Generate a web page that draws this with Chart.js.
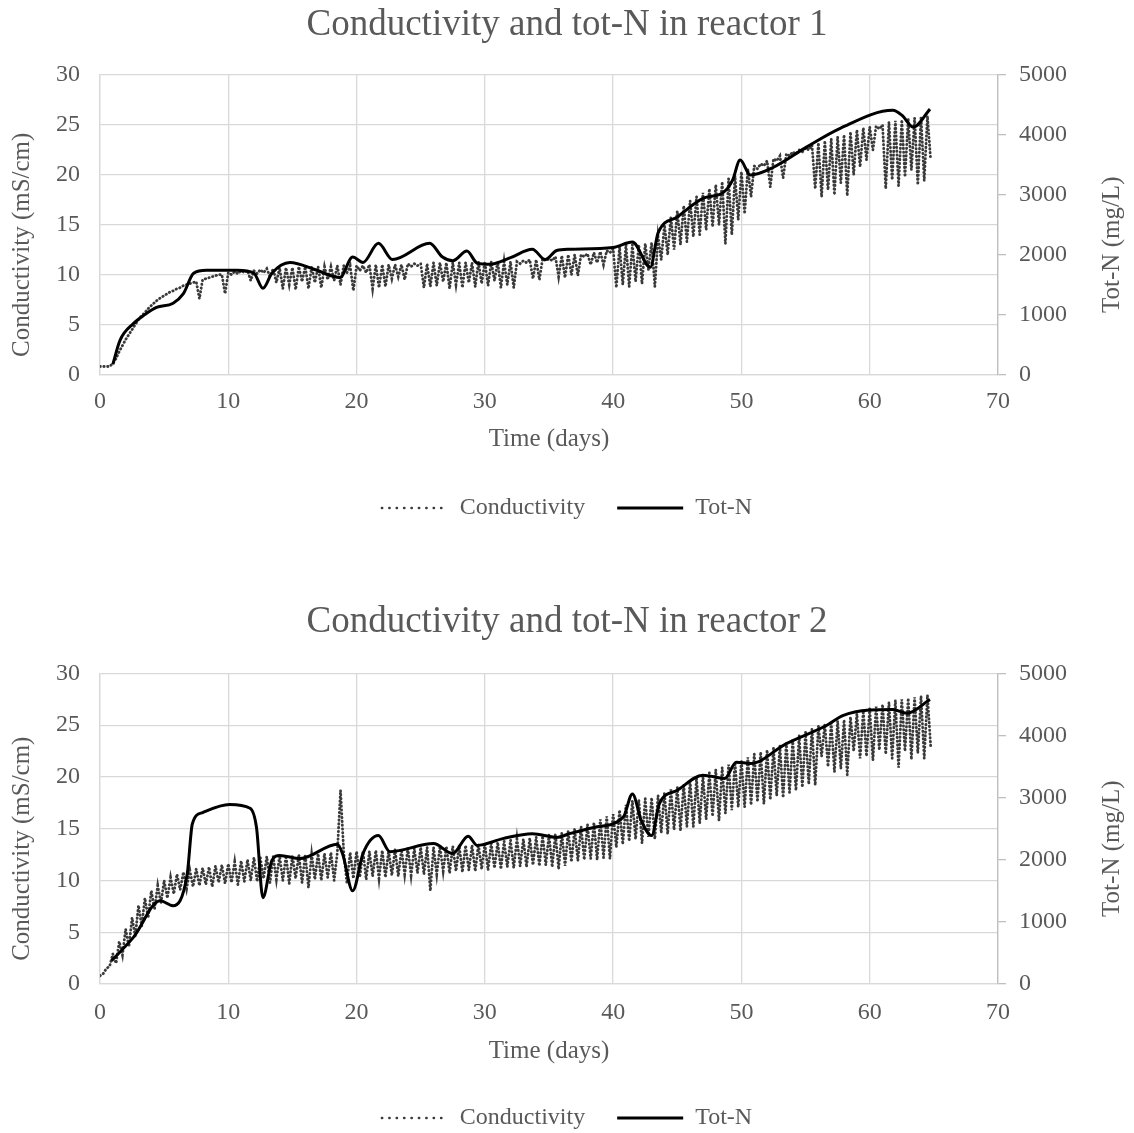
<!DOCTYPE html>
<html>
<head>
<meta charset="utf-8">
<script src="https://cdn.jsdelivr.net/npm/chart.js@4.4.0/dist/chart.umd.min.js"></script>
<style>
  html, body { margin: 0; padding: 0; background: #fff; overflow: hidden; }
  #reactor1 { position: absolute; left: 0; top: 0; }
  #reactor2 { position: absolute; left: 0; top: 573px; }
</style>
</head>
<body>
<canvas id="reactor1" width="1134" height="530"></canvas>
<canvas id="reactor2" width="1134" height="567"></canvas>
<script>
// logger readings, one every 6 h starting at day 0 (mS/cm)
const condStep = 0.25;

const condReactor1 = [
  0.8, 0.8, 0.8, 0.8, 1.1, 1.6, 2.3, 2.9,
  3.5, 4.0, 4.5, 5.0, 5.5, 5.9, 6.2, 6.6,
  6.9, 7.2, 7.5, 7.7, 7.9, 8.1, 8.3, 8.4,
  8.6, 8.7, 8.9, 9.0, 9.1, 9.2, 9.3, 7.6,
  9.5, 9.6, 9.7, 9.8, 9.9, 10.0, 10.0, 8.1,
  10.2, 10.0, 10.3, 10.1, 10.4, 10.2, 10.4, 9.4,
  10.4, 10.1, 10.5, 10.2, 10.6, 9.8, 10.6, 9.2,
  10.7, 8.6, 10.7, 9.0, 10.7, 8.5, 10.8, 9.3,
  10.8, 8.6, 10.8, 9.2, 10.8, 8.7, 10.8, 9.5,
  10.8, 9.4, 10.9, 9.0, 10.9, 10.2, 10.9, 8.4,
  10.9, 10.4, 10.9, 10.2, 11.0, 8.6, 11.0, 8.7,
  11.0, 8.8, 11.0, 9.6, 11.0, 9.8, 11.0, 9.5,
  11.1, 10.8, 11.1, 10.9, 11.1, 8.7, 11.1, 8.8,
  11.2, 8.9, 11.2, 9.3, 11.2, 8.6, 11.2, 9.0,
  11.2, 8.7, 11.2, 9.2, 11.2, 8.8, 11.3, 9.1,
  11.3, 8.9, 11.3, 9.4, 11.3, 8.7, 11.3, 9.0,
  11.3, 8.7, 11.3, 11.1, 11.4, 11.2, 11.5, 9.6,
  11.5, 9.5, 11.6, 11.4, 11.6, 11.4, 11.8, 9.8,
  11.9, 9.7, 12.0, 10.0, 12.0, 9.9, 12.0, 11.8,
  12.1, 11.0, 12.2, 11.2, 12.3, 11.0, 12.4, 12.2,
  12.6, 8.7, 12.8, 9.0, 13.0, 8.8, 13.0, 9.3,
  13.0, 9.1, 13.1, 10.5, 13.2, 8.8, 13.8, 11.5,
  15.0, 12.0, 15.8, 12.5, 16.4, 13.0, 16.9, 13.3,
  17.4, 13.8, 17.8, 14.0, 18.2, 14.5, 18.6, 14.8,
  19.0, 15.0, 19.3, 13.1, 19.6, 14.0, 19.9, 15.5,
  20.3, 16.1, 20.6, 17.8, 20.9, 20.6, 21.1, 20.9,
  21.4, 18.8, 21.6, 21.4, 21.9, 19.7, 22.1, 21.9,
  22.3, 22.1, 22.5, 22.3, 22.7, 22.5, 23.0, 18.6,
  23.2, 17.8, 23.4, 18.5, 23.6, 18.0, 23.8, 19.2,
  24.0, 17.9, 24.3, 20.0, 24.5, 20.8, 24.7, 21.5,
  24.8, 22.5, 24.9, 24.6, 25.0, 18.6, 25.3, 19.5,
  25.4, 18.9, 25.5, 19.8, 25.6, 20.5, 25.7, 19.0,
  25.8, 19.4, 25.9, 21.5
];

const condReactor2 = [
  0.8, 1.0, 1.5, 1.7, 2.9, 2.0, 4.1, 2.8,
  5.3, 3.6, 6.4, 4.6, 7.6, 5.6, 8.3, 6.4,
  9.0, 7.2, 9.5, 7.8, 10.0, 8.3, 10.3, 8.7,
  10.6, 9.1, 10.8, 9.2, 11.0, 9.4, 11.1, 9.5,
  11.2, 9.6, 11.3, 9.4, 11.4, 9.8, 11.5, 9.7,
  11.6, 9.8, 11.8, 9.6, 11.9, 9.9, 12.0, 10.0,
  12.2, 9.9, 12.2, 10.2, 12.3, 9.8, 12.3, 10.1,
  12.4, 10.0, 12.4, 9.7, 12.4, 10.2, 12.5, 9.8,
  12.5, 9.3, 12.5, 10.1, 12.6, 10.0, 12.6, 10.3,
  12.7, 10.0, 12.7, 18.7, 12.7, 9.7, 12.7, 10.2,
  12.8, 10.3, 12.8, 10.1, 12.8, 10.4, 12.9, 10.2,
  12.9, 10.3, 12.9, 10.5, 13.0, 10.4, 13.0, 10.6,
  13.1, 10.5, 13.1, 10.7, 13.2, 10.6, 13.2, 9.0,
  13.2, 10.6, 13.3, 10.9, 13.3, 10.7, 13.3, 10.9,
  13.4, 10.8, 13.4, 11.0, 13.4, 10.9, 13.5, 11.1,
  13.5, 11.0, 13.6, 11.2, 13.7, 11.1, 13.8, 11.3,
  13.9, 11.2, 14.0, 11.4, 14.0, 11.3, 14.1, 11.5,
  14.2, 11.4, 14.3, 11.5, 14.4, 11.3, 14.5, 11.1,
  14.6, 11.4, 14.8, 11.8, 15.0, 11.9, 15.2, 12.0,
  15.4, 12.1, 15.6, 12.0, 15.9, 12.2, 16.2, 12.1,
  16.4, 13.2, 16.8, 13.5, 17.3, 13.8, 17.7, 14.0,
  17.8, 13.6, 17.9, 14.2, 18.0, 14.0, 18.2, 14.6,
  18.5, 14.5, 18.8, 14.9, 19.0, 14.8, 19.3, 15.2,
  19.6, 15.2, 19.9, 15.5, 20.1, 15.9, 20.4, 16.2,
  20.7, 15.8, 20.9, 16.5, 21.2, 16.8, 21.4, 17.1,
  21.6, 17.1, 21.9, 17.3, 22.2, 17.6, 22.4, 17.4,
  22.6, 17.8, 22.8, 18.2, 23.0, 18.0, 23.3, 18.5,
  23.6, 18.7, 24.0, 19.0, 24.3, 19.3, 24.7, 19.2,
  24.9, 22.0, 25.1, 21.0, 25.2, 20.5, 25.4, 20.8,
  25.5, 20.2, 25.8, 22.5, 26.1, 21.8, 26.4, 22.0,
  26.6, 21.6, 26.8, 22.6, 27.0, 22.2, 27.2, 21.8,
  27.4, 20.9, 27.5, 22.5, 27.6, 21.7, 27.7, 22.3,
  27.8, 21.8, 27.9, 23.0
];

// lab samples (mg/L)
const totNDays1 = [1.0, 1.56, 2.6, 3.5, 4.4, 5.7, 6.5, 7.3, 8.3, 10.7, 12.0, 12.7, 13.4, 14.8, 16.9, 18.7,
  19.7, 20.5, 21.7, 22.8, 25.7, 26.7, 27.5, 28.6, 29.4, 30.4, 32.0, 33.7, 34.7, 35.6, 36.6, 40.0,
  41.5, 42.9, 43.5, 45.0, 47.0, 48.6, 49.3, 49.9, 50.7, 52.5, 55.1, 57.7, 61.8, 62.5, 63.4, 64.7];
const totNVals1 = [170, 570, 850, 1000, 1120, 1190, 1350, 1690, 1740, 1740, 1690, 1440, 1690, 1870, 1740, 1620,
  1960, 1870, 2190, 1920, 2190, 1960, 1900, 2060, 1860, 1840, 1950, 2090, 1920, 2070, 2090, 2120,
  2210, 1790, 2360, 2630, 2940, 3040, 3240, 3580, 3330, 3460, 3800, 4110, 4410, 4330, 4130, 4430];

const totNDays2 = [0.9, 2.6, 4.7, 5.7, 6.8, 7.2, 8.0, 10.1, 11.7, 12.2, 12.7, 13.4, 14.0, 15.6, 18.5, 18.9,
  19.7, 20.5, 21.7, 22.6, 26.0, 27.5, 28.7, 29.4, 31.4, 33.7, 35.6, 36.6, 38.5, 40.8, 41.5, 42.2,
  43.0, 43.6, 45.0, 47.0, 48.7, 49.6, 50.7, 53.5, 56.7, 57.9, 60.0, 61.8, 62.9, 64.7];
const totNVals2 = [375, 750, 1340, 1260, 1770, 2580, 2760, 2890, 2830, 2520, 1390, 1990, 2070, 2020, 2250, 2100,
  1500, 2100, 2390, 2130, 2260, 2100, 2380, 2230, 2340, 2420, 2360, 2420, 2520, 2690, 3060, 2630,
  2390, 2900, 3120, 3360, 3310, 3570, 3550, 3870, 4170, 4320, 4410, 4420, 4360, 4580];

const FONT = 'Liberation Serif';
const GREY = '#595959';
const GRID = '#d9d9d9';
const TITLE_SHIFT = 20;   // excel puts both axis titles a bit below the plot centre

// both axis titles drawn by hand (right one reads bottom-to-top, like excel)
const axisTitles = {
  id: 'axisTitles',
  afterDraw(chart) {
    const ctx = chart.ctx;
    const area = chart.chartArea;
    const cy = (area.top + area.bottom) / 2 + TITLE_SHIFT;
    const draw = (text, x) => {
      ctx.save();
      ctx.translate(x, cy);
      ctx.rotate(-Math.PI / 2);
      ctx.font = '25px "' + FONT + '"';
      ctx.fillStyle = GREY;
      ctx.textAlign = 'center';
      ctx.textBaseline = 'middle';
      ctx.fillText(text, 0, 0);
      ctx.restore();
    };
    draw('Conductivity (mS/cm)', chart.scales.y.left + 22);
    draw('Tot-N (mg/L)', chart.scales.y2.right - 22);
  }
};

function makeChart(id, title, condVals, nDays, nVals, lay) {
  const condPts = condVals.map((v, i) => ({ x: i * condStep, y: v }));
  const totNPts = nDays.map((d, i) => ({ x: d, y: nVals[i] }));

  return new Chart(document.getElementById(id), {
    type: 'line',
    data: {
      datasets: [{
        label: 'Conductivity',
        data: condPts,
        yAxisID: 'y',
        borderColor: '#3a3a3a',
        borderWidth: 2.8,
        borderDash: [0.4, 3.4],
        borderCapStyle: 'round',
        pointRadius: 0,
        tension: 0,
        order: 1
      }, {
        label: 'Tot-N',
        data: totNPts,
        yAxisID: 'y2',
        borderColor: '#000000',
        borderWidth: 3,
        pointRadius: 0,
        tension: 0.4,
        cubicInterpolationMode: 'monotone',
        order: 0
      }]
    },
    plugins: [axisTitles],
    options: {
      responsive: false,
      animation: false,
      plugins: {
        tooltip: { enabled: false },
        title: {
          display: true,
          text: title,
          color: GREY,
          font: { family: FONT, size: 37, weight: 'normal' },
          padding: lay.titlePad
        },
        legend: {
          position: 'bottom',
          labels: {
            color: GREY,
            font: { family: FONT, size: 24 },
            usePointStyle: true,
            pointStyleWidth: 66,
            padding: 32,
            sort: (a, b) => a.datasetIndex - b.datasetIndex,
            generateLabels: chart => chart.data.datasets.map((ds, i) => ({
              text: ds.label,
              datasetIndex: i,
              strokeStyle: ds.borderColor,
              fillStyle: ds.borderColor,
              lineWidth: i === 0 ? 2.4 : 3,
              lineDash: i === 0 ? [0.4, 7] : [],
              lineCap: i === 0 ? 'round' : 'butt',
              pointStyle: 'line',
              fontColor: GREY,
              hidden: false
            }))
          }
        }
      },
      scales: {
        x: {
          type: 'linear',
          min: 0,
          max: 70,
          ticks: { stepSize: 10, color: GREY, font: { family: FONT, size: 24 }, padding: lay.xTickPad },
          grid: { color: GRID, lineWidth: 1.3, drawTicks: false },
          border: { color: GRID, width: 1.3 },
          title: {
            display: true,
            text: 'Time (days)',
            color: GREY,
            font: { family: FONT, size: 25 },
            padding: { top: 0, bottom: lay.xTitleBottom }
          },
          afterFit: s => { s.height = lay.xHeight; }
        },
        y: {
          position: 'left',
          min: 0,
          max: 30,
          ticks: { stepSize: 5, color: GREY, font: { family: FONT, size: 24 }, padding: 20 },
          grid: { color: GRID, lineWidth: 1.3, drawTicks: false },
          border: { color: GRID, width: 1.3 },
          afterFit: s => { s.width = 100; }
        },
        y2: {
          position: 'right',
          min: 0,
          max: 5000,
          ticks: {
            stepSize: 1000, color: GREY, font: { family: FONT, size: 24 }, padding: 13,
            callback: v => String(v)
          },
          grid: { drawOnChartArea: false, drawTicks: true, tickLength: 8, color: '#bfbfbf', lineWidth: 1.3 },
          border: { color: '#bfbfbf', width: 1.3 },
          afterFit: s => { s.width = 136; }
        }
      }
    }
  });
}

makeChart('reactor1', 'Conductivity and tot-N in reactor 1', condReactor1, totNDays1, totNVals1, {
  titlePad: { top: 3, bottom: 27.6 },
  xTickPad: 13,
  xHeight: 89.5,
  xTitleBottom: 9.6
});

makeChart('reactor2', 'Conductivity and tot-N in reactor 2', condReactor2, totNDays2, totNVals2, {
  titlePad: { top: 27, bottom: 29 },
  xTickPad: 14.6,
  xHeight: 90,
  xTitleBottom: 7.6
});
</script>
</body>
</html>
